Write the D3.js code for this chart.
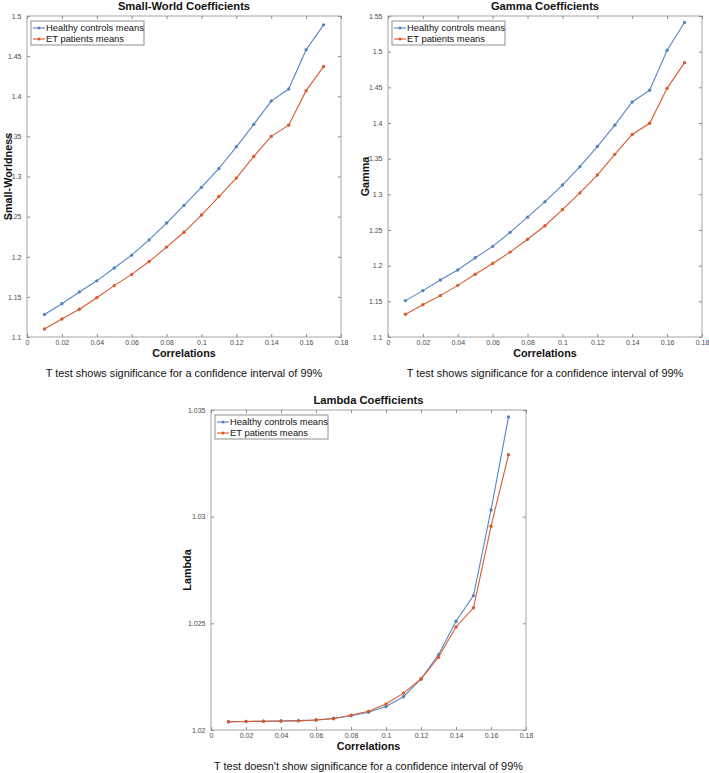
<!DOCTYPE html>
<html>
<head>
<meta charset="utf-8">
<script src="https://cdn.jsdelivr.net/npm/d3@7"></script>
<style>
  html, body { margin: 0; padding: 0; background: #fff; }
  svg { display: block; }
  text { font-family: "Liberation Sans", Arial, Helvetica, sans-serif; }
</style>
</head>
<body>
<svg id="chart" width="709" height="773"></svg>
<script>
// ---------- data ----------
const correlations = [0.01, 0.02, 0.03, 0.04, 0.05, 0.06, 0.07, 0.08, 0.09, 0.10, 0.11, 0.12, 0.13, 0.14, 0.15, 0.16, 0.17];

const swHealthy = [1.128, 1.1415, 1.156, 1.170, 1.186, 1.202, 1.221, 1.242, 1.264, 1.2865, 1.310, 1.337, 1.365, 1.394, 1.409, 1.458, 1.489];
const swET      = [1.110, 1.1225, 1.1345, 1.149, 1.164, 1.178, 1.194, 1.212, 1.2305, 1.252, 1.275, 1.298, 1.325, 1.350, 1.364, 1.407, 1.437];

const gammaHealthy = [1.151, 1.165, 1.180, 1.194, 1.211, 1.227, 1.2467, 1.268, 1.2897, 1.313, 1.3387, 1.367, 1.397, 1.4294, 1.446, 1.502, 1.541];
const gammaET      = [1.1318, 1.1453, 1.158, 1.1724, 1.188, 1.203, 1.219, 1.237, 1.256, 1.2785, 1.302, 1.327, 1.356, 1.384, 1.3996, 1.4486, 1.4846];

const lambdaHealthy = [1.02039, 1.0204, 1.02041, 1.02042, 1.02044, 1.02047, 1.02055, 1.02067, 1.02083, 1.0211, 1.02156, 1.02239, 1.02353, 1.0251, 1.0263, 1.03031, 1.03467];
const lambdaET      = [1.02039, 1.0204, 1.02041, 1.02042, 1.02043, 1.02047, 1.02053, 1.02069, 1.02088, 1.02122, 1.02173, 1.02239, 1.02341, 1.02483, 1.02573, 1.02955, 1.0329];

const xTicks = [0, 0.02, 0.04, 0.06, 0.08, 0.1, 0.12, 0.14, 0.16, 0.18];
const swTicks = [1.1, 1.15, 1.2, 1.25, 1.3, 1.35, 1.4, 1.45, 1.5];
const gammaTicks = [1.1, 1.15, 1.2, 1.25, 1.3, 1.35, 1.4, 1.45, 1.5, 1.55];
const lambdaTicks = [1.02, 1.025, 1.03, 1.035];

const seriesNames = ["Healthy controls means", "ET patients means"];
const seriesColors = ["#5485c3", "#d95a2e"];

// ---------- drawing ----------
const svg = d3.select("#chart");
const fmt = d => String(+(+d).toFixed(4));

function panel(cfg) {
  const { left, right, top, bottom } = cfg.box;
  const g = svg.append("g");
  const x = d3.scaleLinear().domain([0, 0.18]).range([left, right]);
  const y = d3.scaleLinear().domain(cfg.yDomain).range([bottom, top]);

  // axes box
  g.append("rect")
    .attr("x", left).attr("y", top)
    .attr("width", right - left).attr("height", bottom - top)
    .attr("fill", "#fff").attr("stroke", "#a6a6a6").attr("stroke-width", 1);

  const styleAxis = sel => {
    sel.select(".domain").remove();
    sel.selectAll(".tick line").attr("stroke", "#8c8c8c");
    sel.selectAll(".tick text").attr("fill", "#4a4a4a")
      .style("font-size", "7px")
      .style("font-family", "'Liberation Sans', Arial, sans-serif");
  };

  g.append("g").attr("transform", `translate(0,${bottom})`)
    .call(d3.axisBottom(x).tickValues(xTicks).tickFormat(fmt).tickSizeInner(-3).tickSizeOuter(0).tickPadding(3.5))
    .call(styleAxis);
  g.append("g").attr("transform", `translate(0,${top})`)
    .call(d3.axisTop(x).tickValues(xTicks).tickFormat("").tickSizeInner(-3).tickSizeOuter(0))
    .call(styleAxis);
  g.append("g").attr("transform", `translate(${left},0)`)
    .call(d3.axisLeft(y).tickValues(cfg.yTicks).tickFormat(fmt).tickSizeInner(-3).tickSizeOuter(0).tickPadding(5.5))
    .call(styleAxis);
  g.append("g").attr("transform", `translate(${right},0)`)
    .call(d3.axisRight(y).tickValues(cfg.yTicks).tickFormat("").tickSizeInner(-3).tickSizeOuter(0))
    .call(styleAxis);

  // series
  const line = d3.line().x((d, i) => x(correlations[i])).y(d => y(d));
  cfg.series.forEach((vals, si) => {
    g.append("path").datum(vals)
      .attr("d", line).attr("fill", "none")
      .attr("stroke", seriesColors[si]).attr("stroke-width", 1.1);
    g.selectAll(null).data(vals).enter().append("circle")
      .attr("cx", (d, i) => x(correlations[i])).attr("cy", d => y(d))
      .attr("r", 1.7).attr("fill", seriesColors[si]);
  });

  // legend
  const lx = left + 4, ly = top + 5, lw = 113, lh = 24;
  const lg = g.append("g");
  lg.append("rect").attr("x", lx).attr("y", ly).attr("width", lw).attr("height", lh)
    .attr("fill", "#fff").attr("stroke", "#8f8f8f").attr("stroke-width", 1);
  seriesNames.forEach((name, si) => {
    const cy = ly + 7 + si * 11;
    lg.append("line").attr("x1", lx + 2).attr("x2", lx + 14).attr("y1", cy).attr("y2", cy)
      .attr("stroke", seriesColors[si]).attr("stroke-width", 1.1);
    lg.append("circle").attr("cx", lx + 8).attr("cy", cy).attr("r", 1.5).attr("fill", seriesColors[si]);
    lg.append("text").attr("x", lx + 15).attr("y", cy + 3.3)
      .style("font-size", "9.4px").attr("fill", "#111").text(name);
  });

  const cx = (left + right) / 2;
  g.append("text").attr("x", cx).attr("y", top - 6).attr("text-anchor", "middle")
    .style("font-size", "11.2px").style("font-weight", "bold").attr("fill", "#111").text(cfg.title);
  g.append("text").attr("x", cx).attr("y", bottom + 20).attr("text-anchor", "middle")
    .style("font-size", "10.8px").style("font-weight", "bold").attr("fill", "#111").text("Correlations");
  g.append("text").attr("x", cx).attr("y", bottom + 40).attr("text-anchor", "middle")
    .style("font-size", "10.9px").attr("fill", "#111").text(cfg.note);
  g.append("text")
    .attr("transform", `translate(${cfg.yLabelX},${(top + bottom) / 2}) rotate(-90)`)
    .attr("text-anchor", "middle")
    .style("font-size", "10.8px").style("font-weight", "bold").attr("fill", "#111").text(cfg.yLabel);
}

panel({
  box: { left: 27, right: 341, top: 16, bottom: 337 },
  yDomain: [1.1, 1.5], yTicks: swTicks,
  series: [swHealthy, swET],
  title: "Small-World Coefficients", yLabel: "Small-Worldness", yLabelX: 11.5,
  note: "T test shows significance for a confidence interval of 99%"
});
panel({
  box: { left: 388, right: 702, top: 16, bottom: 337 },
  yDomain: [1.1, 1.55], yTicks: gammaTicks,
  series: [gammaHealthy, gammaET],
  title: "Gamma Coefficients", yLabel: "Gamma", yLabelX: 368.5,
  note: "T test shows significance for a confidence interval of 99%"
});
panel({
  box: { left: 211, right: 526, top: 410, bottom: 730 },
  yDomain: [1.02, 1.035], yTicks: lambdaTicks,
  series: [lambdaHealthy, lambdaET],
  title: "Lambda Coefficients", yLabel: "Lambda", yLabelX: 191,
  note: "T test doesn't show significance for a confidence interval of 99%"
});
</script>
</body>
</html>
